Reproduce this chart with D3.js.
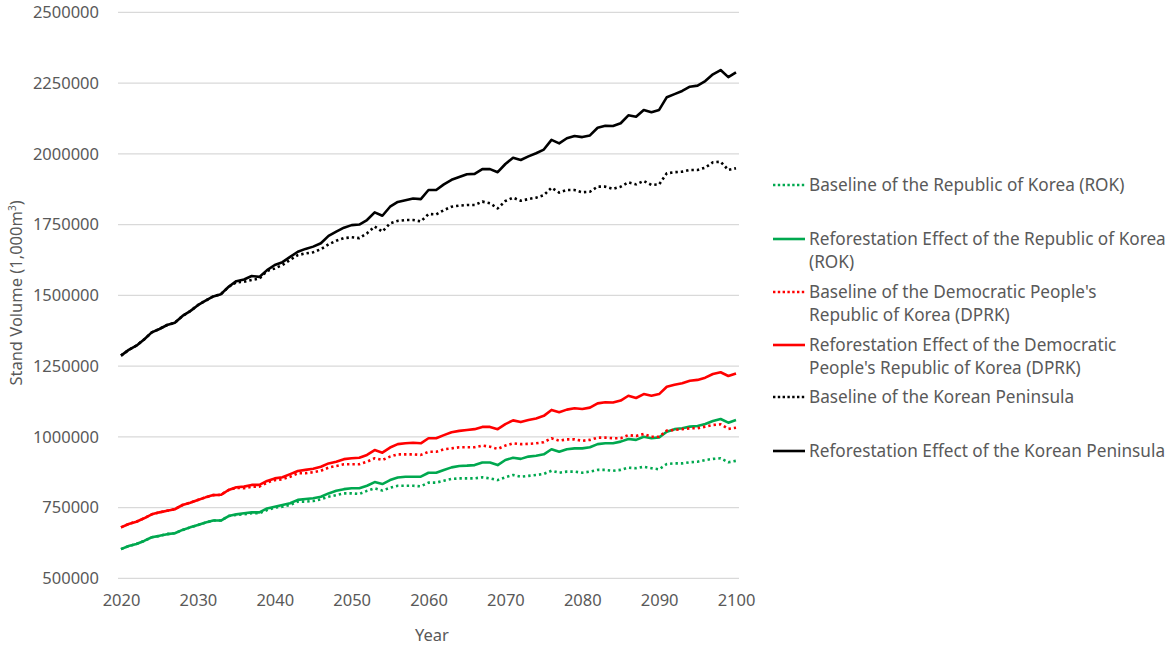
<!DOCTYPE html>
<html>
<head>
<meta charset="utf-8">
<script src="https://cdn.jsdelivr.net/npm/d3@7"></script>
<style>
  html, body { margin: 0; padding: 0; background: #fff; }
  svg { display: block; }
  text { font-family: "Noto Sans", "Open Sans", sans-serif; fill: #595959; }
</style>
</head>
<body>
<svg id="chart" width="1170" height="646"></svg>
<script>
// ---- data ----
const years = d3.range(2020, 2101);
const yTicks = [500000, 750000, 1000000, 1250000, 1500000, 1750000, 2000000, 2250000, 2500000];
const xTicks = [2020, 2030, 2040, 2050, 2060, 2070, 2080, 2090, 2100];

const rokBaseline = [603000,614000,621000,632000,645000,650000,656000,659000,671000,680000,688000,697000,704000,704000,720000,724000,726000,730000,730000,741000,750000,753000,759000,771000,771000,773000,779000,788000,794000,800000,800000,798000,809000,818000,810000,820000,827000,827000,827000,825000,838000,838000,845000,851000,853000,853000,853000,857000,853000,847000,857000,865000,859000,862000,865000,869000,880000,873000,877000,877000,873000,877000,883000,883000,880000,883000,891000,889000,894000,889000,885000,904000,906000,906000,910000,912000,918000,922000,924000,910000,915000];
const rokReforest = [603000,614000,621000,632000,645000,650000,656000,659000,671000,680000,688000,697000,704000,704000,720000,726000,730000,733000,733000,747000,753000,759000,765000,777000,780000,783000,788000,800000,809000,815000,818000,818000,827000,840000,833000,847000,856000,859000,859000,859000,873000,873000,883000,892000,897000,898000,900000,909000,909000,900000,918000,926000,922000,930000,933000,938000,956000,947000,956000,959000,959000,963000,974000,977000,977000,983000,992000,989000,1000000,995000,998000,1018000,1027000,1030000,1036000,1038000,1045000,1056000,1063000,1050000,1059000];
const dprkBaseline = [680000,692000,700000,712000,726000,733000,739000,744000,759000,767000,777000,786000,794000,795000,812000,820000,818000,824000,824000,838000,847000,850000,859000,871000,871000,875000,880000,891000,897000,903000,903000,903000,912000,924000,918000,930000,938000,938000,938000,936000,947000,947000,956000,959000,963000,963000,963000,969000,965000,957000,969000,977000,974000,975000,977000,981000,995000,986000,991000,991000,986000,989000,997000,997000,995000,995000,1006000,1003000,1010000,1000000,1000000,1022000,1024000,1027000,1030000,1030000,1036000,1042000,1044000,1028000,1032000];
const dprkReforest = [680000,692000,700000,712000,726000,733000,739000,744000,759000,767000,777000,786000,794000,795000,812000,822000,824000,830000,830000,844000,853000,857000,868000,879000,883000,887000,894000,906000,912000,921000,924000,926000,936000,953000,944000,962000,974000,977000,979000,977000,995000,995000,1006000,1016000,1021000,1024000,1027000,1035000,1035000,1027000,1045000,1058000,1052000,1059000,1065000,1074000,1095000,1087000,1096000,1101000,1098000,1103000,1118000,1122000,1121000,1128000,1145000,1137000,1151000,1145000,1151000,1177000,1184000,1189000,1198000,1201000,1209000,1222000,1228000,1215000,1224000];
const kpBaseline = [1287000,1307000,1322000,1344000,1369000,1381000,1395000,1403000,1427000,1444000,1465000,1481000,1496000,1504000,1530000,1546000,1548000,1554000,1559000,1586000,1595000,1607000,1625000,1642000,1648000,1652000,1663000,1680000,1693000,1702000,1705000,1702000,1719000,1743000,1725000,1754000,1763000,1766000,1766000,1761000,1787000,1786000,1801000,1813000,1817000,1819000,1819000,1831000,1825000,1807000,1833000,1845000,1834000,1840000,1845000,1854000,1880000,1863000,1872000,1872000,1864000,1866000,1884000,1884000,1876000,1884000,1899000,1892000,1904000,1890000,1892000,1931000,1935000,1937000,1943000,1943000,1951000,1970000,1972000,1943000,1949000];
const kpReforest = [1287000,1307000,1322000,1344000,1369000,1381000,1395000,1403000,1427000,1444000,1465000,1481000,1496000,1504000,1530000,1550000,1556000,1568000,1565000,1589000,1607000,1617000,1636000,1654000,1664000,1672000,1684000,1710000,1725000,1739000,1748000,1750000,1766000,1793000,1781000,1813000,1830000,1836000,1842000,1840000,1872000,1872000,1892000,1908000,1918000,1928000,1929000,1946000,1946000,1935000,1964000,1986000,1978000,1991000,2002000,2015000,2049000,2037000,2055000,2063000,2059000,2065000,2092000,2099000,2098000,2108000,2136000,2131000,2155000,2147000,2155000,2200000,2211000,2222000,2237000,2241000,2257000,2281000,2296000,2271000,2288000];

const seriesNames = [
  ["Baseline of the Republic of Korea (ROK)"],
  ["Reforestation Effect of the Republic of Korea", "(ROK)"],
  ["Baseline of the Democratic People's", "Republic of Korea (DPRK)"],
  ["Reforestation Effect of the Democratic", "People's Republic of Korea (DPRK)"],
  ["Baseline of the Korean Peninsula"],
  ["Reforestation Effect of the Korean Peninsula"]
];
const seriesValues = [rokBaseline, rokReforest, dprkBaseline, dprkReforest, kpBaseline, kpReforest];
const seriesColors = ["#00a84f", "#00a84f", "#ff0000", "#ff0000", "#000000", "#000000"];
const seriesDotted = [true, false, true, false, true, false];

// ---- drawing ----
const svg = d3.select("#chart");
const x = d3.scaleLinear().domain([2020, 2100]).range([121, 736]);
const y = d3.scaleLinear().domain([500000, 2500000]).range([578.3, 12.3]);
const gridX0 = 118, gridX1 = 739;

// gridlines
svg.append("g").selectAll("line").data(yTicks).join("line")
  .attr("x1", gridX0).attr("x2", gridX1)
  .attr("y1", d => y(d)).attr("y2", d => y(d))
  .attr("stroke", "#d9d9d9").attr("stroke-width", 1.2);

// y axis labels
const yAxis = d3.axisLeft(y).tickValues(yTicks).tickSize(0).tickPadding(0).tickFormat(d3.format("d"));
const gy = svg.append("g").attr("transform", "translate(99,0)").call(yAxis);
gy.select(".domain").remove();
gy.selectAll("text").attr("font-size", 16.5).attr("fill", "#595959")
  .style("font-family", "'Noto Sans', sans-serif");

// x axis labels
const xAxis = d3.axisBottom(x).tickValues(xTicks).tickSize(0).tickPadding(0).tickFormat(d3.format("d"));
const gx = svg.append("g").attr("transform", "translate(0,594)").call(xAxis);
gx.select(".domain").remove();
gx.selectAll("text").attr("font-size", 16.5).attr("fill", "#595959")
  .style("font-family", "'Noto Sans', sans-serif");

// axis titles
svg.append("text").attr("x", 432).attr("y", 641).attr("text-anchor", "middle")
  .attr("font-size", 16.5).text("Year");
const yt = svg.append("text").attr("transform", "translate(22,293) rotate(-90)")
  .attr("text-anchor", "middle").attr("font-size", 16.5);
yt.append("tspan").text("Stand Volume (1,000m");
yt.append("tspan").attr("font-size", 10).attr("dy", -6).text("3");
yt.append("tspan").attr("dy", 6).text(")");

// lines
const line = d3.line().x((d, i) => x(years[i])).y(d => y(d));
seriesValues.forEach((vals, k) => {
  svg.append("path").datum(vals)
    .attr("d", line)
    .attr("fill", "none")
    .attr("stroke", seriesColors[k])
    .attr("stroke-width", 2.6)
    .attr("stroke-linejoin", "round")
    .attr("stroke-dasharray", seriesDotted[k] ? "2.4,3" : null);
});

// legend
const legendY = [185, 239, 292, 345, 397, 451];
const lg = svg.append("g");
seriesNames.forEach((lines, k) => {
  const yy = legendY[k];
  lg.append("line").attr("x1", 773).attr("x2", 805).attr("y1", yy).attr("y2", yy)
    .attr("stroke", seriesColors[k]).attr("stroke-width", 2.6)
    .attr("stroke-dasharray", seriesDotted[k] ? "2.4,2.4" : null);
  const t = lg.append("text").attr("x", 809).attr("y", yy + 6).attr("font-size", 17.2);
  lines.forEach((s, j) => {
    t.append("tspan").attr("x", 809).attr("dy", j === 0 ? 0 : 23).text(s);
  });
});
</script>
</body>
</html>
